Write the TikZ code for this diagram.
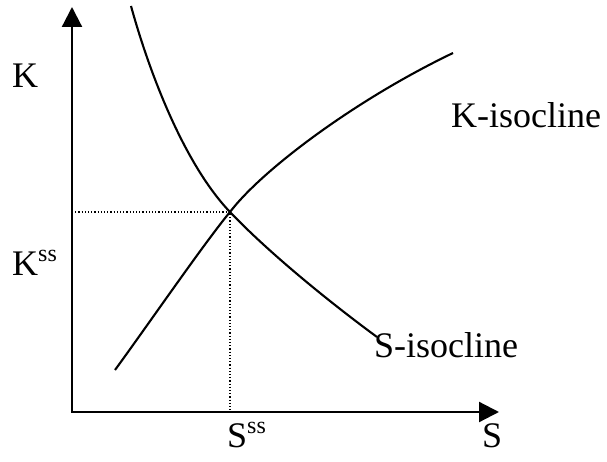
\documentclass[tikz,border=0pt]{standalone}
\usepackage{fontspec}
\setmainfont{Liberation Serif}
\usetikzlibrary{arrows.meta}
\newcommand{\ssup}{\raisebox{14pt}{\fontsize{24}{24}\selectfont ss}}
\begin{document}
\begin{tikzpicture}[x=1pt,y=-1pt,
		axis/.style={line width=2.2pt,{Triangle[length=20pt,width=20pt]}-{Triangle[length=20pt,width=20pt]}},
		isocline/.style={line width=2.1pt,line join=round},
		guide/.style={line width=1.2pt,dotted},
		lbl/.style={inner sep=0pt,font=\fontsize{36}{40}\selectfont}]
		\useasboundingbox (0,0) rectangle (607,462);
		\coordinate (O) at (72,412);
		\coordinate (ytip) at (72,7);
		\coordinate (xtip) at (499,412);
		\coordinate (ss) at (230,212);
		\coordinate (kss) at (72,212);
		\coordinate (sss) at (230,412);
		% steady state guides
		\draw[guide] (kss) -- (ss) -- (sss);
		\draw[axis] (ytip) -- (O) -- (xtip);
		% K-isocline
		\coordinate (kiso0) at (115,370);
		\coordinate (kiso1) at (453,53);
		\draw[isocline] (kiso0) .. controls (150,322) and (205,242) .. (ss)
			.. controls (262,170) and (355,100) .. (kiso1);
		% S-isocline
		\coordinate (siso0) at (131,6);
		\coordinate (siso1) at (377,337);
		\draw[isocline] (siso0) .. controls (150,75) and (185,165) .. (ss)
			.. controls (270,254) and (332,304) .. (siso1);
		\node[lbl,anchor=base west] (Klbl) at (12,88) {K};
		\node[lbl,anchor=base west] (Ksslbl) at (12,275) {K\ssup};
		\node[lbl,anchor=base west] (Ssslbl) at (227,447) {S\ssup};
		\node[lbl,anchor=base west] (Slbl) at (482,447) {S};
		\node[lbl,anchor=base west] (Kiso) at (451,128) {K-isocline};
		\node[lbl,anchor=base west] (Siso) at (374,357) {S-isocline};
	\end{tikzpicture}
\end{document}
